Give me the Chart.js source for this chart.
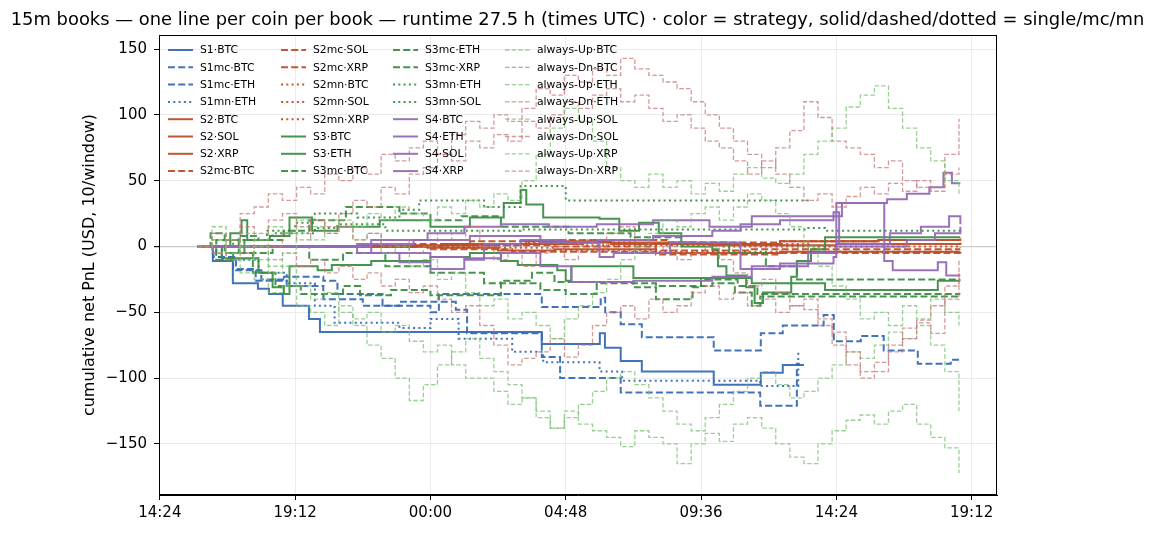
<!DOCTYPE html>
<html>
<head>
<meta charset="utf-8">
<script src="https://cdn.jsdelivr.net/npm/chart.js@4.4.0/dist/chart.umd.min.js"></script>
<style>
  html, body { margin: 0; padding: 0; background: #fff; }
</style>
</head>
<body>
<canvas id="pnlChart" width="1155" height="534"></canvas>
<script>
// Cumulative PnL per coin per book, 15m windows (hours since 14:24 UTC)

const chartTitle = "15m books — one line per coin per book — runtime 27.5 h (times UTC) · color = strategy, solid/dashed/dotted = single/mc/mn";
const xTicks = [0, 4.8, 9.6, 14.4, 19.2, 24, 28.8];
const xTickLabels = ["14:24", "19:12", "00:00", "04:48", "09:36", "14:24", "19:12"];
const yTicks = [-150, -100, -50, 0, 50, 100, 150];

// strategy books: [hour, cumulative pnl] at each change
const S1_BTC = [[1.35,0],[1.88,-11],[2.59,-28],[3.48,-32],[3.87,-36],[4.36,-45],[5.29,-55],[5.68,-65],[13.55,-74],[15.61,-66],[15.79,-77],[16.35,-87],[17.1,-95],[19.65,-105],[21.32,-96],[22.1,-90],[22.85,-90]];
const S1mc_BTC = [[1.35,0],[2.0,-8],[2.6,-17],[3.4,-26],[4.4,-23],[5.8,-26],[6.3,-36],[7.9,-45],[9.6,-50],[9.9,-36],[13.55,-46],[15.64,-39],[15.8,-50],[16.35,-59],[17.1,-69],[19.65,-79],[21.32,-66],[22.1,-60],[23.55,-52],[23.91,-72],[24.87,-68],[25.68,-79],[26.89,-89],[28.06,-86],[28.35,-86]];
const S1mc_ETH = [[1.35,0],[1.9,-8],[2.7,-18],[3.6,-25],[4.5,-30],[5.8,-40],[7.2,-45],[8.5,-42],[10.5,-48],[10.9,-66],[13.55,-84],[14.2,-100],[16.35,-111],[20.6,-111],[21.3,-121],[22.6,-89],[22.7,-89]];
const S1mn_ETH = [[1.35,0],[2.2,-10],[3.5,-20],[4.5,-28],[5.5,-45],[6.2,-58],[8.5,-62],[9.6,-55],[10.6,-70],[12.5,-80],[13.6,-88],[15.6,-95],[16.4,-102],[21.3,-106],[22.6,-106],[22.65,-80]];

const S2_BTC = [[1.35,0],[9,1],[12,2],[15,3],[19,2],[22,4],[25.5,5],[28.4,6]];
const S2_SOL = [[1.35,0],[9.5,-1],[12,-3],[14,-2],[17.6,-5],[22,-4],[28.4,-4]];
const S2_XRP = [[1.35,0],[10,2],[13,4],[16,2],[19.5,1],[24,2],[28.4,3]];
const S2mc_BTC = [[1.35,0],[9,2],[11,4],[14,5],[18,3],[22,4],[25.5,5],[28.4,5]];
const S2mc_SOL = [[1.35,0],[9.5,-2],[12.5,-4],[17.6,-6],[22,-5],[28.4,-7]];
const S2mc_XRP = [[1.35,0],[10,1],[14,0],[17.6,-3],[21,-2],[28.4,-2]];
const S2mn_BTC = [[1.35,0],[9,1],[13,3],[17,2],[23,4],[25.5,5],[28.4,5]];
const S2mn_SOL = [[1.35,0],[10,-1],[14,-3],[17.6,-4],[28.4,-5]];
const S2mn_XRP = [[1.35,0],[11,2],[15,1],[20,0],[28.4,-1]];

const S3_BTC = [[1.35,0],[2.5,10],[2.9,20],[3.1,5],[3.9,8],[4.6,22],[5.4,12],[6.3,15],[7.8,20],[9.6,15],[11.0,22],[12.2,33],[12.8,43],[13.0,32],[13.6,22],[15.6,21],[16.3,12],[17.0,18],[17.7,10],[18.5,0],[19.6,-2],[19.8,-15],[20.1,-22],[20.8,-31],[21.1,-43],[21.4,-35],[22.4,-23],[22.6,-11],[23.1,-2],[23.6,7],[28.4,7]];
const S3_ETH = [[1.35,0],[2.2,-9],[3.5,-20],[4.0,-31],[4.4,-36],[4.6,-15],[5.6,-18],[6.1,-14],[7.5,-11],[9.6,-8],[11.0,-5],[12.1,-11],[12.7,-14],[14.1,-18],[14.4,-26],[14.6,-15],[16.8,-24],[20.2,-24],[21.0,-28],[23.6,-33],[27.6,-26],[28.4,-26]];
const S3mc_BTC = [[1.35,0],[2.0,-10],[2.6,-5],[3.3,-20],[4.1,-30],[5.0,-36],[6.5,-30],[7.1,-37],[8.2,-33],[9.6,-37],[10.5,-37],[12.1,-26],[13.2,-20],[14.0,-27],[16.8,-31],[17.6,-40],[18.9,-31],[19.2,-25],[20.5,-30],[21.2,-36],[28.4,-36]];
const S3mc_ETH = [[1.35,0],[1.8,10],[2.3,-5],[2.8,8],[3.5,5],[4.4,12],[5.3,20],[6.6,30],[8.5,25],[9.6,20],[10.7,23],[12.1,15],[14.5,10],[16.7,7],[18.5,3],[20.2,-5],[21.5,-15],[22.6,-25],[28.4,-25]];
const S3mc_XRP = [[1.35,0],[2.0,5],[3.0,-5],[4.0,0],[5.3,-10],[6.5,-5],[8.0,-15],[9.6,-20],[11.5,-28],[13.5,-33],[14.4,-36],[15.5,-28],[17.6,-30],[19.6,-28],[20.4,-35],[21.0,-45],[21.3,-38],[28.4,-38]];
const S3mn_ETH = [[1.35,0],[2.5,5],[3.8,12],[4.8,18],[5.5,25],[7.0,22],[8.5,28],[9.2,35],[11.5,30],[12.8,46],[14.4,35],[23.1,35]];
const S3mn_SOL = [[1.35,0],[2.6,5],[4.0,10],[5.5,14],[6.3,17],[8.0,12],[12.8,13],[23.0,14],[23.6,12],[28.4,13]];

const S4_BTC = [[1.35,0],[6.2,0],[7,2],[9,5],[11,8],[13.5,3],[15.5,5],[17.5,8],[19.6,12],[20.6,17],[22,20],[23.9,23],[24.2,33],[25.8,36],[26.5,40],[27.3,45],[27.8,56],[28.1,48],[28.4,48]];
const S4_ETH = [[1.35,0],[6.2,0],[7,-5],[8.5,-12],[9.6,-17],[10.8,-10],[11.5,2],[12.8,5],[14.4,3],[15.6,-8],[16.1,-5],[18.1,3],[20.6,-17],[22,-13],[23.9,-8],[24.0,33],[25.6,33],[25.7,-11],[26.0,-18],[27.6,-12],[27.9,-22],[28.4,-22]];
const S4_SOL = [[1.35,0],[6.2,0],[7.5,5],[9.5,10],[10.8,15],[12.1,17],[13.8,15],[15.5,17],[17.5,20],[19.5,15],[21.0,23],[23.9,26],[24.1,2],[25.9,10],[27.0,15],[28.0,23],[28.4,17]];
const S4_XRP = [[1.35,0],[6.2,0],[7.5,-5],[9.6,-8],[10.8,-9],[12.1,-5],[13.5,-15],[14.6,-27],[16.8,-26],[19.6,-23],[21,-15],[23,-5],[24,0],[25.6,0],[26.5,5],[27.5,10],[28.4,15]];

// always-Up / always-Dn baselines, sampled every 30 min
const T = [1.35,1.85,2.35,2.85,3.35,3.85,4.35,4.85,5.35,5.85,
           6.35,6.85,7.35,7.85,8.35,8.85,9.35,9.85,10.35,10.85,
           11.35,11.85,12.35,12.85,13.35,13.85,14.35,14.85,15.35,15.85,
           16.35,16.85,17.35,17.85,18.35,18.85,19.35,19.85,20.35,20.85,
           21.35,21.85,22.35,22.85,23.35,23.85,24.35,24.85,25.35,25.85,
           26.35,26.85,27.35,27.85,28.35];
const UP_BTC = [0,-5,-10,-20,-25,-35,-30,-45,-50,-60, -45,-55,-50,-65,-60,-72,-80,-75,-90,-100, -100,-110,-120,-115,-130,-138,-125,-135,-140,-145, -152,-140,-145,-150,-165,-150,-142,-148,-135,-130, -138,-150,-160,-165,-150,-140,-132,-128,-135,-125, -120,-135,-145,-153,-172];
const DN_BTC = [0,10,5,25,30,40,35,45,40,55, 50,60,55,70,65,75,80,70,85,95, 90,100,95,105,120,115,130,125,135,130, 143,135,130,125,120,110,100,90,80,70, 60,75,88,110,98,80,75,70,60,65, 50,45,42,70,97];
const UP_ETH = [0,5,-5,0,-10,-20,-15,-30,-40,-35, -50,-60,-75,-85,-100,-117,-105,-90,-80,-70, -85,-95,-105,-115,-125,-138,-130,-120,-110,-100, -95,-105,-115,-125,-135,-140,-130,-120,-110,-100, -95,-105,-115,-110,-100,-90,-80,-85,-75,-65, -70,-60,-75,-95,-125];
const DN_ETH = [0,-5,-10,-5,5,0,10,5,20,15, 25,35,30,45,40,55,60,70,65,80, 75,85,80,95,90,100,110,105,115,120, 110,115,105,95,100,90,80,75,65,55, 65,55,45,35,40,30,38,45,40,48, 42,50,45,55,60];
const UP_SOL = [0,5,-5,10,5,15,10,20,15,10, 20,15,25,20,30,25,20,30,25,35, 30,40,35,50,70,90,105,95,80,60, 50,45,55,45,50,40,48,42,55,60, 52,48,55,70,80,90,106,115,122,105, 90,75,65,50,40];
const DN_SOL = [0,-5,5,-5,0,-10,-5,-15,-10,-20, -15,-25,-20,-30,-25,-35,-30,-40,-50,-45, -60,-75,-90,-85,-80,-70,-84,-75,-60,-50, -45,-55,-40,-50,-45,-35,-30,-40,-35,-45, -40,-50,-45,-48,-60,-75,-90,-100,-95,-80, -70,-58,-66,-40,-20];
const UP_XRP = [0,15,5,-10,0,-15,-5,10,5,20, 15,5,10,-5,0,-15,-10,-25,-20,-35, -45,-40,-55,-50,-60,-70,-55,-45,-35,-25, -10,0,10,20,15,25,30,20,30,40, 35,25,15,0,-15,-30,-40,-55,-50,-60, -45,-55,-40,-50,-60];
const DN_XRP = [0,10,5,15,10,20,25,15,20,10, 15,5,10,0,5,-5,0,10,5,15, 0,-10,-5,-15,-5,0,-10,5,0,10, 15,5,-5,0,-10,-5,0,-10,-20,-30, -25,-35,-45,-40,-55,-65,-80,-95,-88,-75, -62,-56,-45,-30,-10];

const seriesLabels = [
  "S1·BTC","S1mc·BTC","S1mc·ETH","S1mn·ETH","S2·BTC","S2·SOL","S2·XRP","S2mc·BTC",
  "S2mc·SOL","S2mc·XRP","S2mn·BTC","S2mn·SOL","S2mn·XRP","S3·BTC","S3·ETH","S3mc·BTC",
  "S3mc·ETH","S3mc·XRP","S3mn·ETH","S3mn·SOL","S4·BTC","S4·ETH","S4·SOL","S4·XRP",
  "always-Up·BTC","always-Dn·BTC","always-Up·ETH","always-Dn·ETH","always-Up·SOL","always-Dn·SOL","always-Up·XRP","always-Dn·XRP"
];
const seriesData = [
  S1_BTC, S1mc_BTC, S1mc_ETH, S1mn_ETH, S2_BTC, S2_SOL, S2_XRP, S2mc_BTC,
  S2mc_SOL, S2mc_XRP, S2mn_BTC, S2mn_SOL, S2mn_XRP, S3_BTC, S3_ETH, S3mc_BTC,
  S3mc_ETH, S3mc_XRP, S3mn_ETH, S3mn_SOL, S4_BTC, S4_ETH, S4_SOL, S4_XRP,
  UP_BTC, DN_BTC, UP_ETH, DN_ETH, UP_SOL, DN_SOL, UP_XRP, DN_XRP
];

const strategyColors = {
  S1: "rgba(56, 108, 180, 0.95)",
  S2: "rgba(190, 78, 40, 0.95)",
  S3: "rgba(60, 142, 68, 0.95)",
  S4: "rgba(148, 106, 182, 0.95)",
  "always-Up": "rgba(120, 192, 112, 0.75)",
  "always-Dn": "rgba(196, 120, 120, 0.75)"
};

function styleFor(label) {
  const book = label.split("·")[0];
  if (book.startsWith("always")) {
    return { color: strategyColors[book], width: 1.3, dash: [4.5, 2.2] };
  }
  const strat = book.slice(0, 2);
  const kind = book.slice(2);
  let dash = [];
  if (kind === "mc") dash = [7, 3.2];
  if (kind === "mn") dash = [2, 3.3];
  return { color: strategyColors[strat], width: 2, dash: dash };
}

function toPoints(series) {
  if (typeof series[0] === "number") {
    return series.map((v, i) => ({ x: T[i], y: v }));
  }
  return series.map(p => ({ x: p[0], y: p[1] }));
}

const datasets = seriesLabels.map((label, i) => {
  const st = styleFor(label);
  return {
    label: label,
    data: toPoints(seriesData[i]),
    borderColor: st.color,
    backgroundColor: st.color,
    borderWidth: st.width,
    borderDash: st.dash,
    borderCapStyle: "butt",
    stepped: true,
    pointRadius: 0,
    fill: false,
    order: seriesLabels.length - i
  };
});

// figure title centred on the whole canvas, legend inside the axes (4 x 8, no frame), full frame
const figureDecor = {
  id: "figureDecor",
  afterDraw(chart) {
    const ctx = chart.ctx;
    ctx.save();
    ctx.fillStyle = "#000";
    ctx.textAlign = "center";
    ctx.textBaseline = "alphabetic";
    ctx.font = "17.9px 'DejaVu Sans'";
    ctx.fillText(chartTitle, chart.width / 2, 25);

    const colX = [168, 281, 393, 505];
    const rowY0 = 50, rowStep = 17.3, handleLen = 25;
    ctx.font = "10.8px 'DejaVu Sans'";
    ctx.textBaseline = "middle";
    ctx.textAlign = "left";
    chart.data.datasets.forEach((ds, i) => {
      const col = Math.floor(i / 8), row = i % 8;
      const x = colX[col], y = rowY0 + row * rowStep;
      ctx.strokeStyle = ds.borderColor;
      ctx.lineWidth = ds.borderWidth;
      ctx.setLineDash(ds.borderDash);
      ctx.beginPath();
      ctx.moveTo(x, y);
      ctx.lineTo(x + handleLen, y);
      ctx.stroke();
      ctx.setLineDash([]);
      ctx.fillStyle = "#000";
      ctx.fillText(ds.label, x + handleLen + 7, y + 0.5);
    });

    const a = chart.chartArea;
    ctx.strokeStyle = "#000";
    ctx.lineWidth = 1;
    ctx.strokeRect(a.left + 0.5, a.top + 0.5, a.right - a.left - 1, a.bottom - a.top - 1);
    ctx.restore();
  }
};

const ctx = document.getElementById("pnlChart");
new Chart(ctx, {
  type: "line",
  data: { datasets: datasets },
  options: {
    responsive: false,
    animation: false,
    layout: { padding: { left: 76, right: 158, top: 35, bottom: 0 } },
    plugins: {
      legend: { display: false },
      tooltip: { enabled: false },
      title: { display: false }
    },
    scales: {
      x: {
        type: "linear",
        min: -0.03,
        max: 29.7,
        afterBuildTicks: scale => { scale.ticks = xTicks.map(v => ({ value: v })); },
        afterFit: scale => { scale.height = 39; },
        ticks: {
          autoSkip: false,
          maxRotation: 0,
          padding: 4,
          color: "#000",
          font: { family: "'DejaVu Sans'", size: 15 },
          callback: (value, index) => xTickLabels[index]
        },
        grid: { color: "#ebebeb", tickColor: "#000", tickLength: 5 },
        border: { color: "#000" }
      },
      y: {
        type: "linear",
        min: -188.8,
        max: 160.7,
        afterBuildTicks: scale => { scale.ticks = yTicks.map(v => ({ value: v })); },
        afterFit: scale => { scale.width = 83; },
        ticks: {
          padding: 7,
          color: "#000",
          font: { family: "'DejaVu Sans'", size: 15 },
          callback: (value, index) => String(yTicks[index]).replace("-", "−")
        },
        grid: {
          color: c => (c.tick && c.tick.value === 0 ? "#cccccc" : "#ebebeb"),
          lineWidth: c => (c.tick && c.tick.value === 0 ? 1.2 : 1),
          tickColor: "#000",
          tickLength: 5
        },
        border: { color: "#000" },
        title: {
          display: true,
          text: "cumulative net PnL (USD, 10/window)",
          color: "#000",
          font: { family: "'DejaVu Sans'", size: 16 }
        }
      }
    }
  },
  plugins: [figureDecor]
});
</script>
</body>
</html>
